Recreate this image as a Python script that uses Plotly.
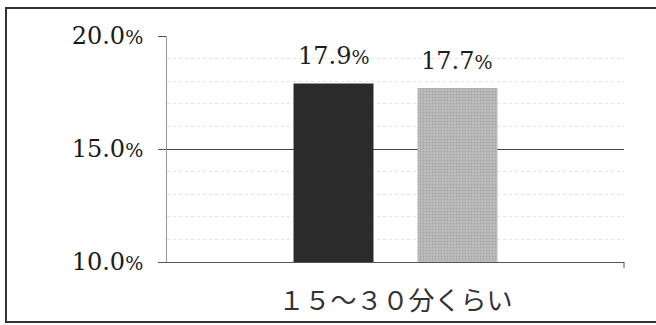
import plotly.graph_objects as go

# Share of respondents answering "about 15-30 minutes", two groups
category = "１５～３０分くらい"
series_pos = [0, 1]          # slot of each series within the category
series_vals = [17.9, 17.7]
series_colors = ["#2b2b2b", "#b2b2b2"]
y_ticks = [10.0, 15.0, 20.0]

W, H = 656, 325
L, R, T, B = 167, 32, 36, 63
pw, ph = W - L - R, H - T - B

def px_x(px):
    return (px - L) / pw

def px_y(py):
    return (H - B - py) / ph

serif = "DejaVu Serif, serif"
gothic = "Noto Sans CJK JP, sans-serif"

def pct(v):
    # number followed by a smaller percent sign
    return f"{v:.1f}<span style='font-size:19px'>%</span>"

fig = go.Figure()
for i, (pos, val, col) in enumerate(zip(series_pos, series_vals, series_colors)):
    marker = dict(color=col, line=dict(width=0))
    if i == 1:
        marker["pattern"] = dict(shape=".", fgcolor="#8c8c8c", bgcolor="#bdbdbd",
                                 size=3, solidity=0.3)
    fig.add_trace(go.Bar(x=[pos], y=[val - 10], base=10, width=0.645,
                         marker=marker, hoverinfo="skip"))
    fig.add_annotation(x=pos, y=val, xref="x", yref="y", text=pct(val),
                       showarrow=False, yanchor="bottom", yshift=11,
                       font=dict(family=serif, size=24, color="#1e1e1e"))

half = 1.843
fig.update_layout(
    width=W, height=H,
    margin=dict(l=L, r=R, t=T, b=B, autoexpand=False),
    paper_bgcolor="white", plot_bgcolor="white",
    showlegend=False,
)
fig.update_yaxes(
    range=[10, 20], tickvals=y_ticks, ticktext=[pct(v) for v in y_ticks],
    tickfont=dict(family=serif, size=24, color="#1a1a1a"),
    ticks="outside", ticklen=8, tickcolor="#555", tickwidth=1,
    showgrid=True, gridcolor="#444", gridwidth=1,
    minor=dict(dtick=1, showgrid=True, gridcolor="#e2e2e2", griddash="dot", gridwidth=1),
    showline=True, linecolor="#999", linewidth=1,
    ticklabelstandoff=10, zeroline=False, automargin=False,
)
fig.update_xaxes(
    range=[0.5 - half, 0.5 + half],
    tickvals=[0.5], ticktext=[category],
    tickfont=dict(family=gothic, size=26, color="#333"),
    showline=True, linecolor="#555", linewidth=1,
    ticks="", showgrid=False, zeroline=False,
    ticklabelstandoff=16, automargin=False,
)

# right-end category tick on the x axis
fig.add_shape(type="line", xref="paper", yref="paper",
              x0=1, x1=1, y0=0, y1=px_y(268),
              line=dict(color="#555", width=1))
# frame around the whole chart
fig.add_shape(type="rect", xref="paper", yref="paper",
              x0=px_x(6), x1=px_x(662), y0=px_y(322), y1=px_y(8),
              line=dict(color="#333", width=2), layer="below")

fig.write_html("out.html")
